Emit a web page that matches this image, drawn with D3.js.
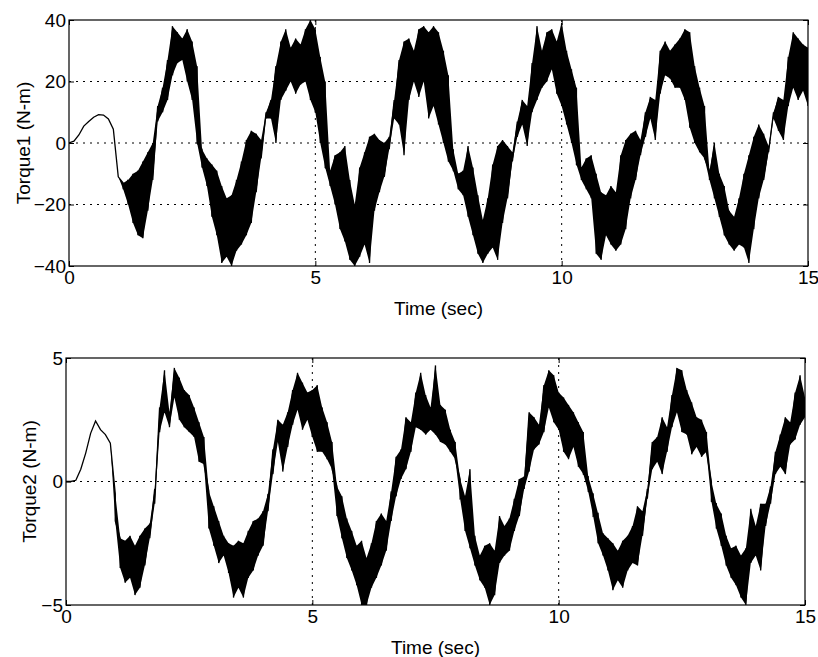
<!DOCTYPE html>
<html>
<head>
<meta charset="utf-8">
<script src="https://cdn.jsdelivr.net/npm/d3@7"></script>
<style>
  body { margin: 0; background: #fff; }
  text { font-family: "Liberation Sans", Arial, sans-serif; fill: #000; }
</style>
</head>
<body>
<script>
// samples every 0.1 s: upper and lower edge of the noisy trace
var sampleStep = 0.1;

var torque1Hi = [
  0, 0.6, 2.6, 5.5, 7.0, 8.4, 9.2, 9.1, 7.8, 4.5,
  -11, -13, -12, -10, -9, -6, -3, 0, 12, 18,
  27, 38, 36, 34, 37, 33, 25, -2, -5, -7,
  -9, -14, -18, -17, -12, -6, 1, 4, 3, 1,
  10, 14, 25, 33, 37, 31, 34, 32, 37, 40,
  37, 28, 20, -9, -4, -3, -1, -12, -20, -8,
  -3, 2, 3, 1, 0, 2, 14, 27, 33, 34,
  30, 37, 38, 36, 38, 36, 30, 22, -2, -10,
  -9, -1, -8, -17, -25, -18, -7, -1, 1, -1,
  -3, 7, 14, 12, 26, 38, 30, 36, 37, 33,
  39, 30, 24, 18, -8, -5, -4, -10, -16, -17,
  -14, -16, -4, 1, 3, 4, 1, 10, 15, 14,
  30, 33, 30, 32, 34, 37, 36, 25, 18, 12,
  -9, 0, -10, -14, -22, -24, -18, -10, -4, 2,
  6, 3, -1, 10, 15, 14, 28, 36, 34, 32,
  31
];
var torque1Lo = [
  0, 0.6, 2.6, 5.5, 7.0, 8.4, 9.2, 9.1, 7.8, 4.5,
  -11, -15, -20, -26, -30, -31, -22, -12, 7, 10,
  14, 22, 26, 27, 20, 14, 0, -8, -14, -24,
  -30, -39, -37, -40, -35, -33, -30, -26, -16, -5,
  8, 8, 0, 14, 17, 20, 16, 19, 20, 14,
  10, 0, -8, -14, -20, -28, -32, -38, -40, -37,
  -33, -39, -22, -16, -11, -2, 8, 6, -4, 14,
  20, 15, 20, 8, 12, 6, 0, -6, -9, -15,
  -17, -24, -30, -36, -39, -36, -34, -38, -26, -18,
  -6, 2, 6, -1, 10, 14, 18, 20, 24, 16,
  12, 6, 0, -7, -12, -15, -18, -36, -38, -30,
  -33, -35, -33, -28, -18, -12, -4, 2, 8, 1,
  16, 22, 21, 18, 18, 14, 5, 0, -3, -5,
  -12, -18, -24, -30, -33, -35, -33, -34, -39, -28,
  -18, -12, -3, 8, 4, 1, 12, 18, 14, 17,
  12
];

var torque2Hi = [
  0, 0, 0.05, 0.5, 1.15, 1.95, 2.45, 2.1, 1.9, 1.55,
  -0.5, -2.3, -2.4, -2.2, -2.6, -2.2, -1.9, -1.7, -0.3, 3.0,
  4.5, 2.8, 4.6, 4.2, 3.7, 3.5, 3.0, 2.4, 1.8, -0.4,
  -1.0, -1.6, -2.2, -2.5, -2.6, -2.4, -2.5, -2.0, -1.6, -1.5,
  -1.2, -0.5, 1.3, 2.5, 2.3, 2.8, 3.7, 4.4, 4.0, 3.6,
  3.7, 3.9, 3.0, 2.4, 1.6, -0.2, -0.6, -1.5, -2.0, -2.6,
  -2.4, -3.1, -2.5, -1.6, -1.3, -1.6, -0.4, 1.0, 1.3, 2.6,
  2.4, 3.6, 4.4, 3.5, 3.0, 4.7, 3.1, 2.9, 2.1, 1.6,
  0.1, -0.6, 0.5, -2.2, -3.0, -2.6, -2.5, -2.8, -1.4, -1.8,
  -1.5, -0.7, 0.1, 0.2, 2.8, 2.6, 2.3, 3.9, 4.5, 4.3,
  3.6, 3.4, 3.1, 2.8, 2.4, 2.0, 0.2, -0.5, -1.3, -2.1,
  -2.3, -2.5, -2.8, -2.4, -2.2, -1.8, -1.0, -1.2, -0.3, 1.6,
  1.8, 2.6, 2.2, 3.5, 4.6, 4.5, 3.7, 3.2, 2.6, 2.5,
  2.0, 0.0, -0.9, -1.3, -2.2, -2.7, -2.6, -3.0, -2.7, -1.1,
  -1.8, -0.9, -0.9, -0.2, 1.2, 1.9, 2.6, 2.4, 3.6, 4.3,
  3.4
];
var torque2Lo = [
  0, 0, 0.05, 0.5, 1.15, 1.95, 2.45, 2.1, 1.9, 1.55,
  -1.6, -3.5, -4.1, -3.9, -4.6, -4.3, -3.4, -2.3, -0.9, 2.0,
  2.8, 2.2, 3.4, 2.5, 2.2, 2.0, 1.8, 0.8, 0.7, -1.9,
  -2.6, -3.3, -3.0, -3.7, -4.7, -4.3, -4.7, -3.9, -3.6, -3.0,
  -2.6, -1.2, 0.3, 1.6, 0.4, 1.4, 2.3, 2.9, 2.1, 2.5,
  1.8, 1.2, 1.2, 0.9, 0.5, -1.4, -2.3, -3.1, -3.6, -4.2,
  -5.0, -5.0, -4.3, -3.9, -3.4, -2.8, -1.6, -0.6, 0.1, 0.5,
  1.2, 2.2, 2.1, 1.9, 2.1, 1.9, 1.6, 1.5, 1.2, 0.9,
  -0.7, -2.0, -2.7, -3.4, -4.0, -4.3, -5.0, -4.6, -3.3, -3.0,
  -2.8, -2.0, -1.4, -0.3, 0.4, 1.3, 1.5, 2.0, 3.0, 2.4,
  2.1, 1.2, 0.9, 1.4, 0.6, 0.3, -0.4, -1.4, -2.5, -3.0,
  -3.6, -4.4, -4.0, -4.3, -3.6, -3.3, -3.4, -2.2, -0.7, 0.5,
  0.8, 0.3, 1.2, 2.2, 2.8, 2.0, 1.9, 1.1, 1.4, 1.0,
  1.2, -0.8, -1.9, -2.6, -3.4, -3.9, -4.2, -4.7, -5.0, -3.3,
  -3.0, -3.6, -1.8, -0.9, 0.3, 0.6, 0.3, 1.5, 1.7, 2.3,
  2.6
];

var timeTicks = [0, 5, 10, 15];
var torque1Ticks = [-40, -20, 0, 20, 40];
var torque2Ticks = [-5, 0, 5];

var svg = d3.select("body").append("svg")
  .attr("width", 818)
  .attr("height", 657);

function panel(id, box, yDomain, yTicks, hi, lo, ylabel, labelX) {
  var x = d3.scaleLinear().domain([0, 15]).range([box.left, box.right]);
  var y = d3.scaleLinear().domain(yDomain).range([box.bottom, box.top]);

  var rows = hi.map(function (h, i) { return { t: i * sampleStep, hi: h, lo: lo[i] }; });

  // trace goes top edge -> bottom edge at each sample
  var pts = [];
  rows.forEach(function (d) {
    pts.push([d.t, d.hi]);
    if (d.lo !== d.hi) pts.push([d.t, d.lo]);
  });

  svg.append("clipPath").attr("id", id)
    .append("rect")
    .attr("x", box.left).attr("y", box.top)
    .attr("width", box.right - box.left).attr("height", box.bottom - box.top);

  var g = svg.append("g");

  // dotted grid
  g.selectAll(".gy")
    .data(yTicks.slice(1, -1))
    .enter().append("line")
    .attr("x1", box.left).attr("x2", box.right)
    .attr("y1", y).attr("y2", y)
    .attr("stroke", "#000").attr("stroke-width", 1)
    .attr("stroke-dasharray", "2,5");
  g.selectAll(".gx")
    .data(timeTicks.slice(1, -1))
    .enter().append("line")
    .attr("x1", x).attr("x2", x)
    .attr("y1", box.top).attr("y2", box.bottom)
    .attr("stroke", "#000").attr("stroke-width", 1)
    .attr("stroke-dasharray", "2,5");

  var trace = g.append("g").attr("clip-path", "url(#" + id + ")");

  trace.append("path")
    .datum(rows)
    .attr("fill", "#000")
    .attr("d", d3.area()
      .x(function (d) { return x(d.t); })
      .y0(function (d) { return y(d.lo); })
      .y1(function (d) { return y(d.hi); }));

  trace.append("path")
    .datum(pts)
    .attr("fill", "none")
    .attr("stroke", "#000")
    .attr("stroke-width", 1.3)
    .attr("d", d3.line()
      .x(function (d) { return x(d[0]); })
      .y(function (d) { return y(d[1]); }));

  // axes with inward ticks on all four sides
  g.append("g")
    .attr("transform", "translate(0," + box.bottom + ")")
    .call(d3.axisBottom(x).tickValues(timeTicks).tickSize(-5).tickPadding(5).tickFormat(d3.format("d")))
    .call(function (a) { a.select(".domain").remove(); a.selectAll("text").style("font-size", "19px"); });
  g.append("g")
    .attr("transform", "translate(0," + box.top + ")")
    .call(d3.axisTop(x).tickValues(timeTicks).tickSize(-5).tickFormat(""))
    .call(function (a) { a.select(".domain").remove(); });
  g.append("g")
    .attr("transform", "translate(" + box.left + ",0)")
    .call(d3.axisLeft(y).tickValues(yTicks).tickSize(-5).tickPadding(3).tickFormat(d3.format("d")))
    .call(function (a) { a.select(".domain").remove(); a.selectAll("text").style("font-size", "19px"); });
  g.append("g")
    .attr("transform", "translate(" + box.right + ",0)")
    .call(d3.axisRight(y).tickValues(yTicks).tickSize(-5).tickFormat(""))
    .call(function (a) { a.select(".domain").remove(); });

  g.append("rect")
    .attr("x", box.left).attr("y", box.top)
    .attr("width", box.right - box.left).attr("height", box.bottom - box.top)
    .attr("fill", "none").attr("stroke", "#000").attr("stroke-width", 1.2);

  g.append("text")
    .attr("x", (box.left + box.right) / 2)
    .attr("y", box.bottom + 49)
    .attr("text-anchor", "middle")
    .style("font-size", "19px")
    .text("Time (sec)");

  g.append("text")
    .attr("transform", "translate(" + labelX + "," + ((box.top + box.bottom) / 2) + ") rotate(-90)")
    .attr("text-anchor", "middle")
    .style("font-size", "19px")
    .text(ylabel);
}

panel("clip1", { left: 69, right: 808, top: 20, bottom: 266 }, [-40, 40], torque1Ticks,
  torque1Hi, torque1Lo, "Torque1 (N-m)", 30);
panel("clip2", { left: 66, right: 805, top: 358, bottom: 605 }, [-5, 5], torque2Ticks,
  torque2Hi, torque2Lo, "Torque2 (N-m)", 36);
</script>
</body>
</html>
